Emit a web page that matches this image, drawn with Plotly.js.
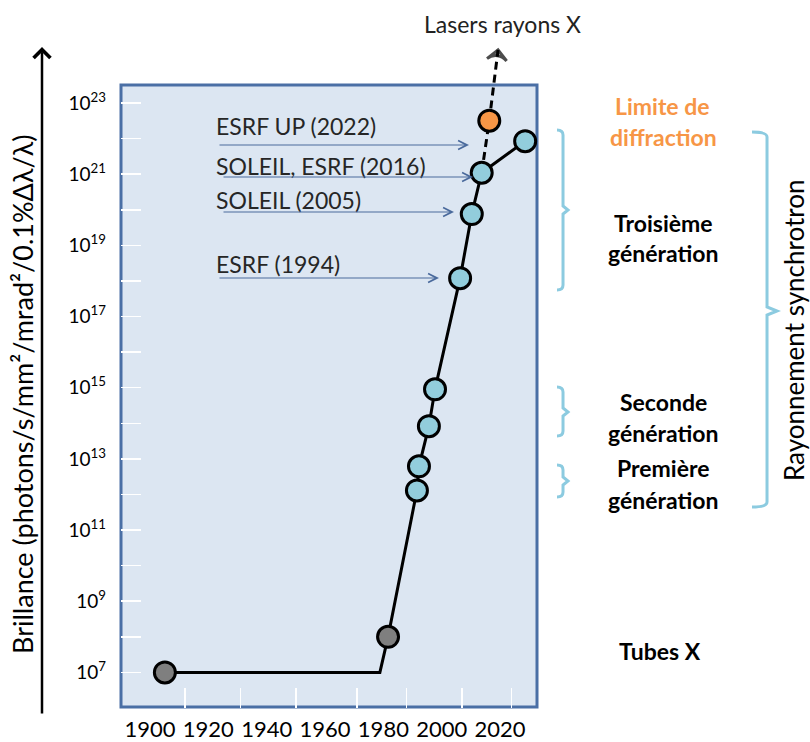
<!DOCTYPE html>
<html><head><meta charset="utf-8">
<script src="https://cdn.plot.ly/plotly-3.0.1.min.js"></script>
<style>html,body{margin:0;padding:0;background:#fff}#chart{width:810px;height:742px}</style>
</head><body><div id="chart"></div>
<script>
// ---- data ----
const tubeYears = [1905.1, 1981.6];
const tubeValues = [1e7, 1e8];
const cornerYear = 1978.8;
const cornerValue = 1e7;
const synchYears = [1991.5, 1992.2, 1995.6, 1997.7, 2006.3, 2010.3, 2013.7, 2028.6];
const synchValues = [1.3e12, 6.2e12, 8.3e13, 9e14, 1.2e18, 7.6e19, 1.1e21, 8.5e21];
const diffYears = [2016.3];
const diffValues = [3.2e22];
const laserYears = [2013.7, 2016.3, 2019.3];
const laserValues = [1.1e21, 3.2e22, 3.1e24];
const xTickVals = [1900, 1920, 1940, 1960, 1980, 2000, 2020];
const xMinorTicks = [1912, 1931, 1950, 1971, 1988, 2007, 2024];
const yExponents = [7,8,9,10,11,12,13,14,15,16,17,18,19,20,21,22,23];
const facilityLabels = ["ESRF UP (2022)", "SOLEIL, ESRF (2016)", "SOLEIL (2005)", "ESRF (1994)"];
const generationLabels = [["Troisième","génération"],["Seconde","génération"],["Première","génération"]];

// ---- layout helpers (pixel -> paper) ----
const L = 121, R = 538, T = 39, B = 708;
const px = X => (X - L) / (R - L);
const py = Y => (B - Y) / (B - T);
const P = (X, Y) => px(X).toFixed(4) + ',' + py(Y).toFixed(4);

const FONT = 'Lato, "Open Sans", sans-serif';
const lineX = [tubeYears[0], cornerYear, tubeYears[1], ...synchYears];
const lineY = [tubeValues[0], cornerValue, tubeValues[1], ...synchValues];

const traces = [
  {x: laserYears, y: laserValues, mode: 'lines+markers', cliponaxis: false,
   line: {color: '#000', width: 3, dash: '8px,5px'},
   marker: {symbol: ['circle','circle','arrow-wide-open'], size: [0,0,14], angleref: 'previous',
            color: '#000', line: {color: '#000', width: 3}}, hoverinfo: 'skip'},
  {x: lineX, y: lineY, mode: 'lines', line: {color: '#000', width: 3}, hoverinfo: 'skip'},
  {x: tubeYears, y: tubeValues, mode: 'markers', marker: {size: 21, color: '#7f7f7f', line: {color: '#000', width: 3}}},
  {x: synchYears, y: synchValues, mode: 'markers', marker: {size: 21, color: '#92cddc', line: {color: '#000', width: 3}}},
  {x: diffYears, y: diffValues, mode: 'markers', marker: {size: 21, color: '#f79646', line: {color: '#000', width: 3}}}
];

const ann = [];
const txt = (t, X, Y, o) => ann.push(Object.assign({xref:'paper', yref:'paper', x: px(X), y: py(Y), text: t,
  showarrow: false, xanchor: 'center', yanchor: 'middle'}, o));
// y axis title
txt('Brillance (photons/s/mm²/mrad²/0.1%Δλ/λ)', 22, 395, {textangle: -90, font: {family: FONT, size: 27, color: '#000'}});
// y axis arrow
ann.push({xref:'paper', yref:'paper', x: px(42), y: py(47), ax: 0, ay: 668, showarrow: true,
  arrowhead: 4, arrowsize: 1.3, arrowwidth: 2.5, arrowcolor: '#000', text: ''});
// Lasers rayons X
txt('Lasers rayons X', 502, 24, {font: {family: FONT, size: 23, color: '#222'}});
// facility labels + arrows
const labY = [126, 166, 200, 264];
const arrY = [145, 177, 212, 278];
const arrX0 = [218, 222, 222, 218];
const arrX1 = [469, 473, 454, 439];
facilityLabels.forEach((t, i) => {
  txt(t, 214, labY[i], {xanchor: 'left', font: {family: FONT, size: 23, color: '#262626'}});
  ann.push({xref:'paper', yref:'paper', x: px(arrX1[i]), y: py(arrY[i]), ax: arrX0[i] - arrX1[i], ay: 0, text: '',
    showarrow: true, arrowhead: 5, arrowsize: 1.6, arrowwidth: 1.1, arrowcolor: '#4a6a9c'});
});
// right side labels
const bold = (t, X, Y, c) => txt('<b>' + t + '</b>', X, Y, {font: {family: FONT, size: 23, color: c || '#000'}});
bold('Limite de', 662, 106, '#f79646');
bold('diffraction', 663, 137, '#f79646');
const genY = [[223, 253], [402, 433], [468, 500]];
generationLabels.forEach((g, i) => { bold(g[0], 663, genY[i][0]); bold(g[1], 663, genY[i][1]); });
bold('Tubes X', 660, 651);
txt('Rayonnement synchrotron', 794, 331, {textangle: -90, font: {family: FONT, size: 26, color: '#000'}});

// braces
const brace = (x0, xv, xn, y0, ym, y1) => {
  const r = 5;
  return 'M' + P(x0, y0) + ' Q' + P(xv, y0) + ' ' + P(xv, y0 + r) + ' L' + P(xv, ym - 4) +
    ' L' + P(xn, ym) + ' L' + P(xv, ym + 4) + ' L' + P(xv, y1 - r) + ' Q' + P(xv, y1) + ' ' + P(x0, y1);
};
const braceStyle = {color: '#8ccbe0', width: 3};
const shapes = [
  {type: 'rect', xref: 'paper', yref: 'paper', x0: 0, x1: px(537), y0: py(707), y1: py(85), layer: 'below',
   fillcolor: '#dce6f2', line: {color: '#4a6fa5', width: 3}},
  {type: 'path', xref: 'paper', yref: 'paper', path: brace(557, 563, 568, 130, 210, 290), line: braceStyle},
  {type: 'path', xref: 'paper', yref: 'paper', path: brace(557, 563, 568, 387, 412, 436), line: braceStyle},
  {type: 'path', xref: 'paper', yref: 'paper', path: brace(557, 563, 568, 465, 481, 497), line: braceStyle},
  {type: 'path', xref: 'paper', yref: 'paper', path: brace(752, 767, 777, 132, 311, 507), line: braceStyle}
];

const layout = {
  width: 810, height: 742,
  margin: {l: L, r: 810 - R, t: T, b: 742 - B},
  paper_bgcolor: '#fff', plot_bgcolor: 'rgba(0,0,0,0)',
  showlegend: false,
  xaxis: {range: [1890.06, 2033.0], showgrid: false, zeroline: false, showline: false,
    tickvals: xTickVals, ticktext: xTickVals.map(String), ticks: '', ticklabelstandoff: 6,
    tickfont: {family: FONT, size: 22, color: '#000'},
    minor: {tickvals: xMinorTicks, ticks: 'inside', ticklen: 20, tickcolor: '#fff', tickwidth: 1.5}},
  yaxis: {type: 'log', range: [6, 24.8], showgrid: false, zeroline: false, showline: false,
    tickvals: yExponents.map(e => Math.pow(10, e)),
    ticktext: yExponents.map(e => e % 2 ? '10<sup>' + e + '</sup>' : ''),
    ticks: 'inside', ticklen: 20, tickcolor: '#fff', tickwidth: 1.5, ticklabelstandoff: 14,
    tickfont: {family: FONT, size: 19, color: '#000'}},
  annotations: ann,
  shapes: shapes
};
Plotly.newPlot('chart', traces, layout, {staticPlot: true});
</script>
</body></html>
